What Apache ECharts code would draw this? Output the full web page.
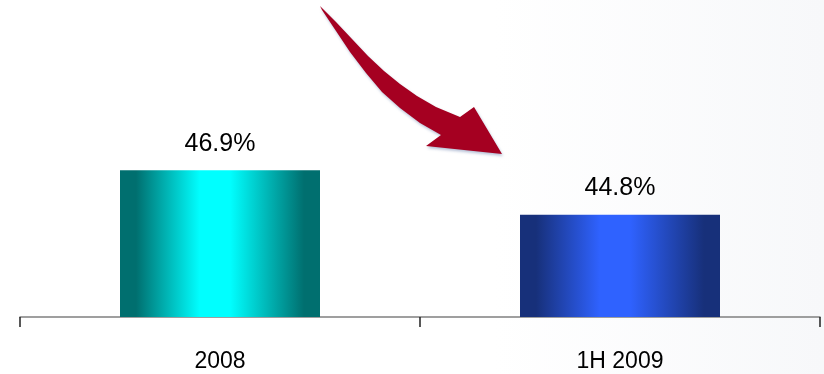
<!DOCTYPE html>
<html>
<head>
<meta charset="utf-8">
<script src="https://cdn.jsdelivr.net/npm/echarts@6/dist/echarts.min.js"></script>
<style>
  html, body { margin: 0; padding: 0; background: #fff; }
  #chart { width: 824px; height: 374px; }
</style>
</head>
<body>
<div id="chart"></div>
<script>
// Periods and their ratio values (percent)
const categories = ['2008', '1H 2009'];
const values = [46.9, 44.8];

// Horizontal "cylinder" shading for each bar: edge / centre colours
const barEdges = ['#006f6f', '#17307a'];
const barCentres = ['#00ffff', '#2f62ff'];

const FONT = '"Liberation Sans Narrow", "Arial Narrow", "Liberation Sans", Arial, sans-serif';

function shade(edge, centre) {
  return new echarts.graphic.LinearGradient(0, 0, 1, 0, [
    { offset: 0, color: edge },
    { offset: 0.08, color: edge },
    { offset: 0.4, color: centre },
    { offset: 0.55, color: centre },
    { offset: 0.92, color: edge },
    { offset: 1, color: edge }
  ]);
}

const chart = echarts.init(document.getElementById('chart'));

// Curved downward arrow outline (decoration)
const arrowPts = [
  [320, 6], [336, 22], [352, 39], [368, 56], [384, 71], [400, 84],
  [417, 96], [436, 107], [460, 117], [474, 107], [502, 154],
  [426, 146], [441, 135], [420, 123], [400, 108], [382, 92],
  [366, 73], [350, 52], [336, 31], [322, 10]
];

chart.setOption({
  backgroundColor: new echarts.graphic.LinearGradient(0, 0, 1, 0, [
    { offset: 0, color: '#ffffff' },
    { offset: 0.6, color: '#ffffff' },
    { offset: 1, color: '#f7f8fa' }
  ]),
  animation: false,
  grid: { left: 20, right: 4, top: 19, bottom: 57 },
  xAxis: {
    type: 'category',
    data: categories,
    axisLine: { lineStyle: { color: '#808080', width: 1.5 } },
    axisTick: { show: true, length: 10, lineStyle: { color: '#222', width: 1.5 } },
    axisLabel: {
      color: '#000',
      fontFamily: FONT,
      fontSize: 23,
      margin: 33
    }
  },
  yAxis: {
    type: 'value',
    min: 40,
    max: 54,
    show: false,
    splitLine: { show: false }
  },
  series: [{
    type: 'bar',
    barWidth: '50%',
    data: values.map((v, i) => ({
      value: v,
      itemStyle: { color: shade(barEdges[i], barCentres[i]) }
    })),
    label: {
      show: true,
      position: 'top',
      distance: 14,
      color: '#000',
      fontFamily: FONT,
      fontSize: 25,
      formatter: p => p.value.toFixed(1) + '%'
    }
  }],
  graphic: [{
    type: 'polygon',
    z: 10,
    shape: { points: arrowPts },
    style: {
      fill: '#a50021',
      shadowColor: 'rgba(120,140,180,0.55)',
      shadowBlur: 3,
      shadowOffsetX: 1,
      shadowOffsetY: 2
    }
  }]
});
</script>
</body>
</html>
